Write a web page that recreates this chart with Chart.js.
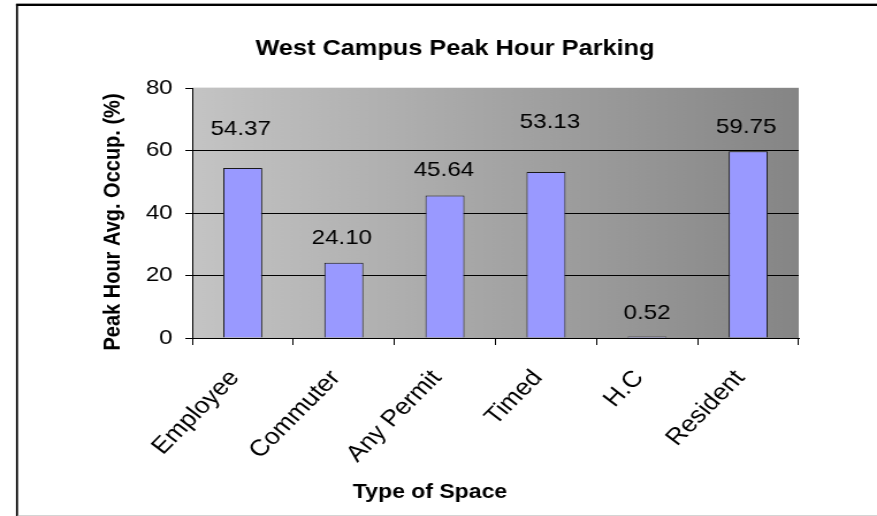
<!DOCTYPE html>
<html><head><meta charset="utf-8">
<script src="https://cdn.jsdelivr.net/npm/chart.js@4/dist/chart.umd.min.js"></script>
<style>html,body{margin:0;padding:0;background:#fff;overflow:hidden}canvas{display:block}</style>
</head><body>
<canvas id="c" width="762" height="516" style="width:877px;height:516px"></canvas>
<script>
const categories = ['Employee', 'Commuter', 'Any Permit', 'Timed', 'H.C', 'Resident'];
const occupancy = [54.37, 24.10, 45.64, 53.13, 0.52, 59.75];
const valueLabels = ['54.37', '24.10', '45.64', '53.13', '0.52', '59.75'];
const yTicks = [0, 20, 40, 60, 80];
const chartTitle = 'West Campus Peak Hour Parking';
const xTitle = 'Type of Space';
const yTitle = 'Peak Hour Avg. Occup. (%)';

const SX = 762 / 877;           // internal px per displayed px (horizontal)
const ix = x => x * SX;
const FONT = "'Liberation Sans', Arial, sans-serif";

// label placement (style, in px above bar top / horizontal nudge)
const labelLift = [39, 24, 25, 50, 23, 24];
const labelNudge = [-2, -2, -1, 4, 0, -2];

const framePlugin = {
  id: 'frame',
  beforeDraw(chart) {
    const ctx = chart.ctx, a = chart.chartArea, W = chart.width, H = chart.height;
    ctx.save();
    ctx.fillStyle = '#fff'; ctx.fillRect(0, 0, W, H);
    ctx.fillStyle = '#a0a0a0'; ctx.fillRect(ix(16), 3, W, 1);
    ctx.fillStyle = '#000'; ctx.fillRect(ix(16), 4, W, 2);
    ctx.fillRect(ix(16), 4, ix(2), H);
    ctx.fillStyle = '#d4d4d4'; ctx.fillRect(ix(18), 515, W, 1);
    const g = ctx.createLinearGradient(a.left, 0, a.right, 0);
    g.addColorStop(0, '#c4c4c4'); g.addColorStop(1, '#858585');
    ctx.fillStyle = g; ctx.fillRect(a.left, a.top, a.right - a.left, a.bottom - a.top);
    ctx.fillStyle = '#e8e8e8'; ctx.fillRect(a.left, a.top - 1, a.right - a.left, 1);
    ctx.restore();
  },
  afterDraw(chart) {
    const ctx = chart.ctx;
    ctx.save();
    ctx.fillStyle = '#000';
    ctx.textAlign = 'center'; ctx.textBaseline = 'alphabetic';
    ctx.font = "bold 22px " + FONT;
    ctx.fillText(chartTitle, ix(455), 55);
    ctx.font = "bold 20px " + FONT;
    ctx.fillText(xTitle, ix(430), 498);
    ctx.translate(ix(113), 222);
    ctx.rotate(-Math.PI / 2);
    ctx.textBaseline = 'middle';
    ctx.font = "bold 20px " + FONT;
    ctx.fillText(yTitle, 0, 0);
    ctx.restore();
  }
};

const valueLabelPlugin = {
  id: 'valueLabels',
  afterDatasetsDraw(chart) {
    const ctx = chart.ctx;
    const meta = chart.getDatasetMeta(0);
    ctx.save();
    ctx.fillStyle = '#000';
    ctx.font = "21px " + FONT;
    ctx.textAlign = 'center'; ctx.textBaseline = 'middle';
    meta.data.forEach((el, i) => {
      ctx.fillText(valueLabels[i], el.x + ix(labelNudge[i]), el.y - labelLift[i]);
    });
    ctx.restore();
  }
};

new Chart(document.getElementById('c'), {
  type: 'bar',
  data: {
    labels: categories,
    datasets: [{
      data: occupancy,
      backgroundColor: '#9999FF',
      borderColor: '#1a1a1a',
      borderWidth: 1,
      barPercentage: 0.386,
      categoryPercentage: 1
    }]
  },
  options: {
    responsive: false,
    animation: false,
    devicePixelRatio: 1,
    layout: { padding: { top: 88, right: 68, left: 0, bottom: 0 } },
    plugins: { legend: { display: false }, title: { display: false }, tooltip: { enabled: false } },
    scales: {
      x: {
        grid: { offset: true, drawOnChartArea: false, color: '#000', tickColor: '#000', tickLength: 7 },
        border: { color: '#000', width: 1 },
        ticks: { autoSkip: false, minRotation: 49, maxRotation: 49, color: '#000', padding: 20,
                 labelOffset: -7, font: { family: FONT, size: 23 } },
        afterFit(s) { s.height = 178; }
      },
      y: {
        min: yTicks[0], max: yTicks[yTicks.length - 1],
        afterBuildTicks(s) { s.ticks = yTicks.map(v => ({ value: v })); },
        grid: {
          color: c => (c.tick && c.tick.value === 80) ? 'rgba(0,0,0,0)' : '#000',
          tickColor: '#000', tickLength: 6
        },
        border: { color: '#000', width: 1 },
        ticks: { color: '#000', padding: 11, font: { family: FONT, size: 21 } },
        afterFit(s) { s.width = 167; }
      }
    }
  },
  plugins: [framePlugin, valueLabelPlugin]
});
</script>
</body></html>
